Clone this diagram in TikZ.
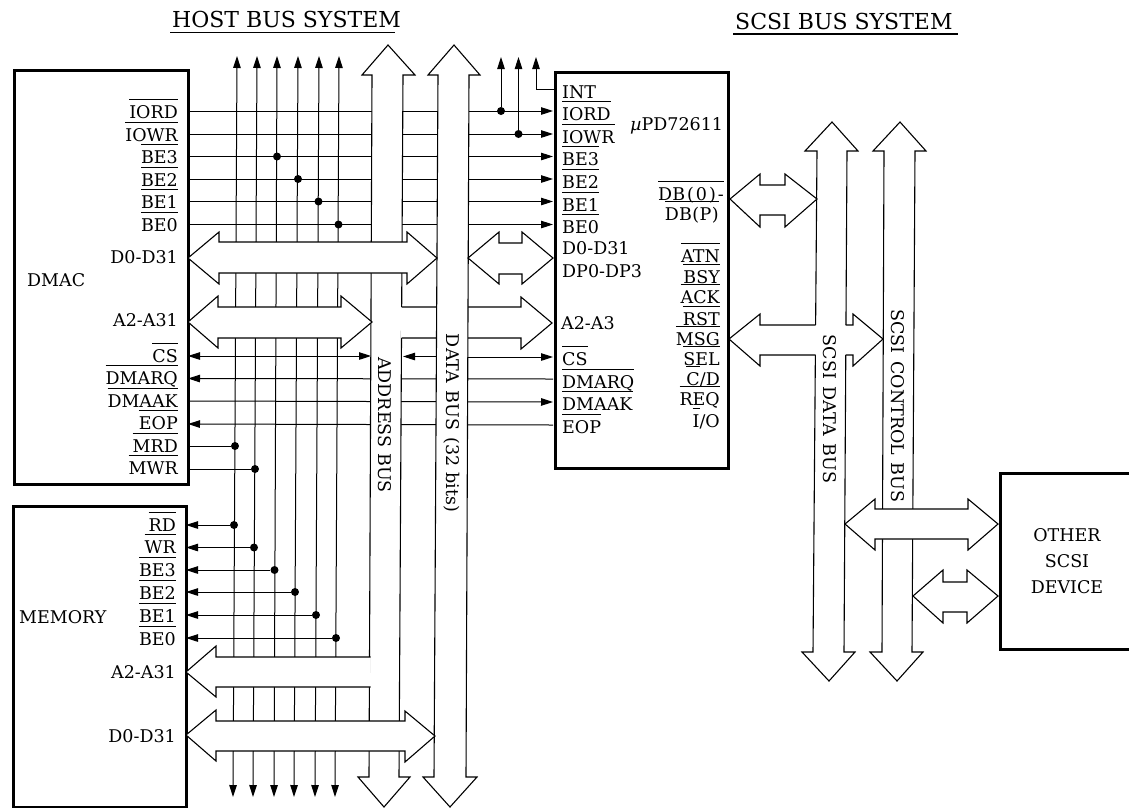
\documentclass[tikz,border=0pt]{standalone}
\usepackage{fontspec}
\setmainfont{DejaVu Serif}
\usetikzlibrary{arrows.meta}
\newcommand\ovl[1]{\setbox0=\hbox{#1}\rlap{\raisebox{17.8pt}{\rule{\wd0}{0.9pt}}}\box0}
\newcommand\wsp{\ \kern2pt}
\tikzset{
  wire/.style={line width=1pt},
  tip/.style={-{Triangle[length=12pt,width=7.5pt]}},
  tipl/.style={{Triangle[length=12pt,width=7.5pt]}-},
  tipb/.style={{Triangle[length=12pt,width=7.5pt]}-{Triangle[length=12pt,width=7.5pt]}},
  bus/.style={draw,fill=white,line width=1.1pt,line join=miter},
  blank/.style={fill=white,draw=none},
  dot/.style={circle,fill=black,inner sep=0pt,minimum size=8pt},
  box/.style={draw,line width=3pt,inner sep=0pt,anchor=north west},
  lab/.style={inner sep=0pt,font=\fontsize{17.5}{20}\selectfont},
  lr/.style={lab,anchor=base east},
  ll/.style={lab,anchor=base west},
  vlab/.style={lab,rotate=-90},
  ttl/.style={inner sep=0pt,anchor=base west,font=\fontsize{22}{24}\selectfont},
}
\begin{document}
\begin{tikzpicture}[x=1pt,y=-1pt]
\useasboundingbox (0,0) rectangle (1129,807);
% boxes
\node[box,minimum width=173.5pt,minimum height=414pt] (dmac) at (13,69) {};
\node[box,minimum width=173pt,minimum height=301pt] (mem) at (11.5,505) {};
\node[box,minimum width=173pt,minimum height=396pt] (upd) at (554,71) {};
\coordinate (otr) at (1129,473);
\coordinate (otb) at (1129,649);
\coordinate (otl) at (1000,561);
\draw[line width=3pt] (otr) -| (otl) |- (otb);
% vertical signal rails
\foreach \i/\tx/\bx in {1/237/233,2/257/253,3/277/274,4/298/294,5/319/315,6/339/335}{
  \coordinate (vt\i) at (\tx,56);
  \coordinate (vb\i) at (\bx,797);
  \draw[wire,tipb] (vt\i) -- (vb\i);
}
% upper signals DMAC -> uPD
\foreach \n/\y in {iord/111,iowr/134,be3/156.5,be2/179,be1/201.5,be0/224.5}{
  \coordinate (dp\n) at (188,\y);
  \coordinate (up\n) at (553,\y);
  \draw[wire,tip] (dp\n) -- (up\n);
}
% lower signals
\coordinate (dpcs) at (188,356);   \coordinate (cs1) at (371,356);
\coordinate (cs2) at (403,356.5);  \coordinate (cs3) at (437,356.5);
\coordinate (cs4) at (468,357);    \coordinate (upcs) at (553,357);
\draw[wire,tipb] (dpcs) -- (cs1);
\draw[wire,tip] (cs3) -- (cs2);
\draw[wire,tip] (cs4) -- (upcs);
\coordinate (dpdrq) at (188,378.5); \coordinate (updrq) at (553,379);
\coordinate (dpdak) at (188,401);   \coordinate (updak) at (553,402);
\coordinate (dpeop) at (188,424);   \coordinate (upeop) at (553,425);
\draw[wire,tipl] (dpdrq) -- (updrq);
\draw[wire,tip] (dpdak) -- (updak);
\draw[wire,tipl] (dpeop) -- (upeop);
% DMAC/memory strobes and dots
\node[dot] (dbe3) at (277,156.5) {};
\node[dot] (dbe2) at (298,179) {};
\node[dot] (dbe1) at (318.5,201.5) {};
\node[dot] (dbe0) at (338.5,224.5) {};
\node[dot] (dmrd) at (235,446) {};
\node[dot] (dmwr) at (255,469) {};
\coordinate (pmrd) at (187,446);
\coordinate (pmwr) at (187,469);
\draw[wire] (pmrd) -- (dmrd);
\draw[wire] (pmwr) -- (dmwr);
\foreach \n/\x/\y in {rd/234/525,wr/254/547.5,mbe3/274.5/570,mbe2/295/592,mbe1/316/615,mbe0/336/638}{
  \node[dot] (d\n) at (\x,\y) {};
  \coordinate (p\n) at (186,\y);
  \draw[wire,tip] (d\n) -- (p\n);
}
% uPD upward branches
\node[dot] (diord) at (501,111) {};
\node[dot] (diowr) at (518.5,134) {};
\coordinate (tiord) at (501,57);
\coordinate (tiowr) at (518.5,57);
\coordinate (tint) at (536,57);
\coordinate (pint) at (554,89);
\draw[wire,tip] (diord) -- (tiord);
\draw[wire,tip] (diowr) -- (tiowr);
\draw[wire,tip] (pint) -| (tint);
% address bus
\path[bus] (388,45) -- (415,75) -- (403,75) -- (399,777) -- (410,777) -- (384,807) -- (358,777) -- (369,777) -- (372,75) -- (362,75) -- cycle;
% A bus to uPD (opens out of the address bus)
\path[blank] (401,307) rectangle (468,338);
\path[bus] (401.5,307) -- (521,307) -- (521,297) -- (552,323) -- (521,349) -- (521,338) -- (401.5,338);
% data bus
\path[bus] (454,45) -- (480,75) -- (469,75) -- (466,777) -- (477,777) -- (450,807) -- (423,777) -- (434,777) -- (438,75) -- (428,75) -- cycle;
% horizontal buses
\path[bus] (188,258) -- (219,232) -- (219,242) -- (407,242) -- (407,232) -- (437,258) -- (407,284) -- (407,273) -- (219,273) -- (219,284) -- cycle;
\path[bus] (188,322) -- (218,296) -- (218,307) -- (341,307) -- (341,296) -- (372,322) -- (341,348) -- (341,338) -- (218,338) -- (218,348) -- cycle;
\path[bus] (468,258) -- (499,232) -- (499,243) -- (522,243) -- (522,232) -- (553,258) -- (522,284) -- (522,274) -- (499,274) -- (499,284) -- cycle;
\path[bus] (370.5,657) -- (216,657) -- (216,646) -- (186,672) -- (216,697) -- (216,687) -- (370.5,687);
\path[bus] (186,735) -- (216,710) -- (216,721) -- (405,721) -- (405,711) -- (435,736) -- (405,762) -- (405,751) -- (216,751) -- (216,761) -- cycle;
% SCSI buses
\path[bus] (832,122) -- (858,151) -- (847,151) -- (844,652) -- (855,652) -- (829,681) -- (802,652) -- (813,652) -- (817,151) -- (805,151) -- cycle;
\path[bus] (900,122) -- (926,151) -- (915,151) -- (912,652) -- (923,652) -- (897,681) -- (870,652) -- (882,652) -- (884,151) -- (873,151) -- cycle;
\path[bus] (730,199) -- (760,174) -- (760,185) -- (785,185) -- (785,174) -- (817,199) -- (785,227) -- (785,215) -- (760,215) -- (760,227) -- cycle;
\path[blank] (814,325) rectangle (817,355);
\path[bus] (815.5,325) -- (760,325) -- (760,314) -- (729,339) -- (760,366) -- (760,355) -- (815.5,355);
\path[blank] (845,325) rectangle (853,355);
\path[bus] (845.5,325) -- (853,325) -- (853,314) -- (883,339) -- (853,366) -- (853,355) -- (845.5,355);
\path[bus] (845,524) -- (875,499) -- (875,509) -- (968,509) -- (968,499) -- (998,524) -- (968,550) -- (968,539) -- (875,539) -- (875,550) -- cycle;
\path[bus] (913,596) -- (943,570) -- (943,582) -- (967,582) -- (967,570) -- (998,596) -- (967,623) -- (967,612) -- (943,612) -- (943,623) -- cycle;
% titles
\node[ttl] (thost) at (172,27) {HOST BUS SYSTEM};
\node[ttl] (tscsi) at (735,29) {SCSI BUS SYSTEM};
\coordinate (uh1) at (170,32.5); \coordinate (uh2) at (395,32.5);
\coordinate (us1) at (733,34); \coordinate (us2) at (958,34);
\draw[line width=1.2pt] (uh1) -- (uh2);
\draw[line width=1.2pt] (us1) -- (us2);
% block titles
\node[lab,anchor=base west] (ldmac) at (27,286) {DMAC};
\node[lab,anchor=base west] (lmem) at (19,623) {MEMORY};
\node[lab,align=center,font=\fontsize{17.5}{26}\selectfont] (lother) at (1067,561) {OTHER\\SCSI\\DEVICE};
\node[ll] (lupd) at (630,130) {{\itshape µ}PD72611};
% DMAC pins
\foreach \n/\txt/\y in {iord/IORD/118,iowr/IOWR/141,be3/BE3/163,be2/BE2/186,be1/BE1/208,be0/BE0/231,cs/CS/362,drq/DMARQ/384,dak/DMAAK/407,eop/EOP/429,mrd/MRD/452,mwr/MWR/474}{
  \node[lr] (dl\n) at (178,\y) {\ovl{\txt}};
}
\node[lr] (dld) at (178,263) {D0-D31};
\node[lr] (dla) at (178,326) {A2-A31};
% memory pins
\foreach \n/\txt/\y in {rd/RD/531,wr/WR/553,be3/BE3/576,be2/BE2/599,be1/BE1/622,be0/BE0/645}{
  \node[lr] (ml\n) at (176,\y) {\ovl{\txt}};
}
\node[lr] (mla) at (176,678) {A2-A31};
\node[lr] (mld) at (176,742) {D0-D31};
% uPD left pins
\node[ll] (ulint) at (562,98) {INT};
\foreach \n/\txt/\y in {iord/IORD/120,iowr/IOWR/143,be3/BE3/165,be2/BE2/188,be1/BE1/211,be0/BE0/233,cs/CS/365,drq/DMARQ/388,dak/DMAAK/410,eop/EOP/433}{
  \node[ll] (ul\n) at (562,\y) {\ovl{\txt}};
}
\node[ll] (uld) at (562,254) {D0-D31};
\node[ll] (uldp) at (562,277) {DP0-DP3};
\node[ll] (ula) at (561,329) {A2-A3};
% uPD right pins
\node[lr] (urdb0) at (724,200) {\ovl{DB\kern2pt(\kern2pt0\kern2pt)\kern2pt-}};
\node[lr] (urdbp) at (719,220) {\ovl{DB\kern.5pt(\kern.5ptP\kern.5pt)}};
\foreach \n/\txt/\y in {atn/ATN/262,bsy/BSY/283,ack/ACK/303,rst/RST/325,msg/MSG/345,sel/SEL/365,req/REQ/405}{
  \node[lr] (ur\n) at (720,\y) {\ovl{\txt}};
}
\node[lr] (urcd) at (720,385) {\ovl{C}/D};
\node[lr] (urio) at (720,427) {\ovl{I}/O};
% rotated bus labels
\node[vlab] (laddr) at (385,425) {ADDRESS BUS};
\node[vlab] (ldata) at (452,423) {DATA\wsp BUS\wsp (32 bits)};
\node[vlab] (lsd) at (830,409) {SCSI\wsp DATA\wsp BUS};
\node[vlab] (lsc) at (898,406) {SCSI\wsp CONTROL\wsp BUS};
\end{tikzpicture}
\end{document}
